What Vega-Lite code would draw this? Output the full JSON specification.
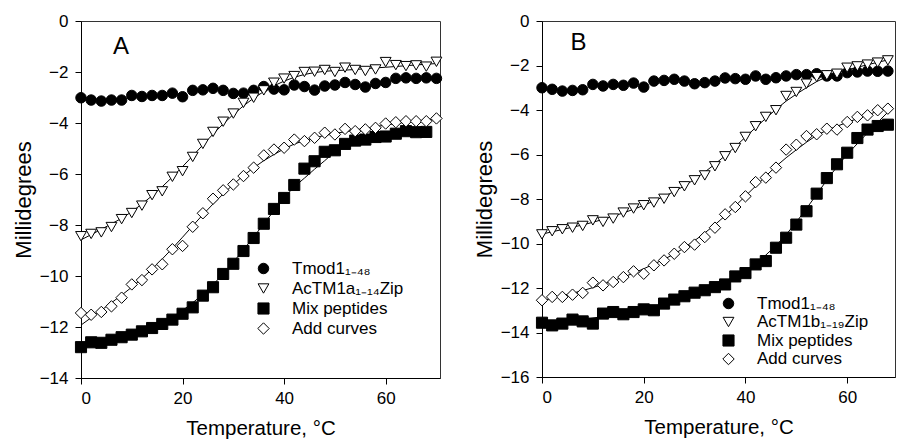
{
"$schema": "https://vega.github.io/schema/vega-lite/v6.json",
"autosize": {"type": "pad"},
"padding": {"left": 11, "top": 11, "right": 0, "bottom": 0},
"background": "white",
"config": {
  "font": "Liberation Sans",
  "view": {"stroke": "#333333", "strokeWidth": 1},
  "axis": {"grid": false, "domainColor": "black", "tickColor": "black", "labelColor": "black", "titleColor": "black", "labelFont": "Liberation Sans", "titleFont": "Liberation Sans", "labelFontSize": 17, "titleFontSize": 20, "titleFontWeight": "normal", "tickSize": 6},
  "axisY": {"labelPadding": 7, "titlePadding": 4, "titleFontSize": 22},
  "axisX": {"labelPadding": 6, "titlePadding": 12, "titleFontSize": 20.5},
  "legend": {"labelFont": "Liberation Sans", "labelFontSize": 17, "labelColor": "black", "symbolStrokeColor": "black", "symbolStrokeWidth": 1, "padding": 0}
},
"datasets": {"d": [
{"p":"A","s":"Tmod1₁₋₄₈","t":0,"v":-3.01},{"p":"A","s":"Tmod1₁₋₄₈","t":2,"v":-3.10},{"p":"A","s":"Tmod1₁₋₄₈","t":4,"v":-3.14},{"p":"A","s":"Tmod1₁₋₄₈","t":6,"v":-3.10},{"p":"A","s":"Tmod1₁₋₄₈","t":8,"v":-3.10},{"p":"A","s":"Tmod1₁₋₄₈","t":10,"v":-2.92},{"p":"A","s":"Tmod1₁₋₄₈","t":12,"v":-2.96},{"p":"A","s":"Tmod1₁₋₄₈","t":14,"v":-2.92},{"p":"A","s":"Tmod1₁₋₄₈","t":16,"v":-2.92},{"p":"A","s":"Tmod1₁₋₄₈","t":18,"v":-2.83},{"p":"A","s":"Tmod1₁₋₄₈","t":20,"v":-2.97},{"p":"A","s":"Tmod1₁₋₄₈","t":22,"v":-2.72},{"p":"A","s":"Tmod1₁₋₄₈","t":24,"v":-2.70},{"p":"A","s":"Tmod1₁₋₄₈","t":26,"v":-2.64},{"p":"A","s":"Tmod1₁₋₄₈","t":28,"v":-2.72},{"p":"A","s":"Tmod1₁₋₄₈","t":30,"v":-2.84},{"p":"A","s":"Tmod1₁₋₄₈","t":32,"v":-2.83},{"p":"A","s":"Tmod1₁₋₄₈","t":34,"v":-2.72},{"p":"A","s":"Tmod1₁₋₄₈","t":36,"v":-2.57},{"p":"A","s":"Tmod1₁₋₄₈","t":38,"v":-2.67},{"p":"A","s":"Tmod1₁₋₄₈","t":40,"v":-2.70},{"p":"A","s":"Tmod1₁₋₄₈","t":42,"v":-2.51},{"p":"A","s":"Tmod1₁₋₄₈","t":44,"v":-2.57},{"p":"A","s":"Tmod1₁₋₄₈","t":46,"v":-2.71},{"p":"A","s":"Tmod1₁₋₄₈","t":48,"v":-2.55},{"p":"A","s":"Tmod1₁₋₄₈","t":50,"v":-2.51},{"p":"A","s":"Tmod1₁₋₄₈","t":52,"v":-2.41},{"p":"A","s":"Tmod1₁₋₄₈","t":54,"v":-2.49},{"p":"A","s":"Tmod1₁₋₄₈","t":56,"v":-2.59},{"p":"A","s":"Tmod1₁₋₄₈","t":58,"v":-2.45},{"p":"A","s":"Tmod1₁₋₄₈","t":60,"v":-2.41},{"p":"A","s":"Tmod1₁₋₄₈","t":62,"v":-2.25},{"p":"A","s":"Tmod1₁₋₄₈","t":64,"v":-2.23},{"p":"A","s":"Tmod1₁₋₄₈","t":66,"v":-2.25},{"p":"A","s":"Tmod1₁₋₄₈","t":68,"v":-2.23},{"p":"A","s":"Tmod1₁₋₄₈","t":70,"v":-2.25},
{"p":"A","s":"AcTM1a₁₋₁₄Zip","t":0,"v":-8.44},{"p":"A","s":"AcTM1a₁₋₁₄Zip","t":2,"v":-8.35},{"p":"A","s":"AcTM1a₁₋₁₄Zip","t":4,"v":-8.29},{"p":"A","s":"AcTM1a₁₋₁₄Zip","t":6,"v":-8.08},{"p":"A","s":"AcTM1a₁₋₁₄Zip","t":8,"v":-7.77},{"p":"A","s":"AcTM1a₁₋₁₄Zip","t":10,"v":-7.53},{"p":"A","s":"AcTM1a₁₋₁₄Zip","t":12,"v":-7.24},{"p":"A","s":"AcTM1a₁₋₁₄Zip","t":14,"v":-6.83},{"p":"A","s":"AcTM1a₁₋₁₄Zip","t":16,"v":-6.68},{"p":"A","s":"AcTM1a₁₋₁₄Zip","t":18,"v":-6.11},{"p":"A","s":"AcTM1a₁₋₁₄Zip","t":20,"v":-5.89},{"p":"A","s":"AcTM1a₁₋₁₄Zip","t":22,"v":-5.33},{"p":"A","s":"AcTM1a₁₋₁₄Zip","t":24,"v":-4.82},{"p":"A","s":"AcTM1a₁₋₁₄Zip","t":26,"v":-4.35},{"p":"A","s":"AcTM1a₁₋₁₄Zip","t":28,"v":-3.95},{"p":"A","s":"AcTM1a₁₋₁₄Zip","t":30,"v":-3.63},{"p":"A","s":"AcTM1a₁₋₁₄Zip","t":32,"v":-3.21},{"p":"A","s":"AcTM1a₁₋₁₄Zip","t":34,"v":-3.01},{"p":"A","s":"AcTM1a₁₋₁₄Zip","t":36,"v":-2.72},{"p":"A","s":"AcTM1a₁₋₁₄Zip","t":38,"v":-2.42},{"p":"A","s":"AcTM1a₁₋₁₄Zip","t":40,"v":-2.26},{"p":"A","s":"AcTM1a₁₋₁₄Zip","t":42,"v":-2.16},{"p":"A","s":"AcTM1a₁₋₁₄Zip","t":44,"v":-2.00},{"p":"A","s":"AcTM1a₁₋₁₄Zip","t":46,"v":-1.99},{"p":"A","s":"AcTM1a₁₋₁₄Zip","t":48,"v":-1.92},{"p":"A","s":"AcTM1a₁₋₁₄Zip","t":50,"v":-2.00},{"p":"A","s":"AcTM1a₁₋₁₄Zip","t":52,"v":-1.83},{"p":"A","s":"AcTM1a₁₋₁₄Zip","t":54,"v":-1.92},{"p":"A","s":"AcTM1a₁₋₁₄Zip","t":56,"v":-1.96},{"p":"A","s":"AcTM1a₁₋₁₄Zip","t":58,"v":-1.90},{"p":"A","s":"AcTM1a₁₋₁₄Zip","t":60,"v":-1.61},{"p":"A","s":"AcTM1a₁₋₁₄Zip","t":62,"v":-1.73},{"p":"A","s":"AcTM1a₁₋₁₄Zip","t":64,"v":-1.77},{"p":"A","s":"AcTM1a₁₋₁₄Zip","t":66,"v":-1.74},{"p":"A","s":"AcTM1a₁₋₁₄Zip","t":68,"v":-1.79},{"p":"A","s":"AcTM1a₁₋₁₄Zip","t":70,"v":-1.60},
{"p":"A","s":"Mix peptides","t":0,"v":-12.79},{"p":"A","s":"Mix peptides","t":2,"v":-12.60},{"p":"A","s":"Mix peptides","t":4,"v":-12.62},{"p":"A","s":"Mix peptides","t":6,"v":-12.50},{"p":"A","s":"Mix peptides","t":8,"v":-12.40},{"p":"A","s":"Mix peptides","t":10,"v":-12.30},{"p":"A","s":"Mix peptides","t":12,"v":-12.17},{"p":"A","s":"Mix peptides","t":14,"v":-12.04},{"p":"A","s":"Mix peptides","t":16,"v":-11.88},{"p":"A","s":"Mix peptides","t":18,"v":-11.71},{"p":"A","s":"Mix peptides","t":20,"v":-11.48},{"p":"A","s":"Mix peptides","t":22,"v":-11.23},{"p":"A","s":"Mix peptides","t":24,"v":-10.77},{"p":"A","s":"Mix peptides","t":26,"v":-10.44},{"p":"A","s":"Mix peptides","t":28,"v":-9.92},{"p":"A","s":"Mix peptides","t":30,"v":-9.52},{"p":"A","s":"Mix peptides","t":32,"v":-9.02},{"p":"A","s":"Mix peptides","t":34,"v":-8.51},{"p":"A","s":"Mix peptides","t":36,"v":-7.95},{"p":"A","s":"Mix peptides","t":38,"v":-7.37},{"p":"A","s":"Mix peptides","t":40,"v":-6.94},{"p":"A","s":"Mix peptides","t":42,"v":-6.43},{"p":"A","s":"Mix peptides","t":44,"v":-5.79},{"p":"A","s":"Mix peptides","t":46,"v":-5.50},{"p":"A","s":"Mix peptides","t":48,"v":-5.13},{"p":"A","s":"Mix peptides","t":50,"v":-5.07},{"p":"A","s":"Mix peptides","t":52,"v":-4.82},{"p":"A","s":"Mix peptides","t":54,"v":-4.69},{"p":"A","s":"Mix peptides","t":56,"v":-4.65},{"p":"A","s":"Mix peptides","t":58,"v":-4.55},{"p":"A","s":"Mix peptides","t":60,"v":-4.53},{"p":"A","s":"Mix peptides","t":62,"v":-4.42},{"p":"A","s":"Mix peptides","t":64,"v":-4.32},{"p":"A","s":"Mix peptides","t":66,"v":-4.36},{"p":"A","s":"Mix peptides","t":68,"v":-4.35},
{"p":"A","s":"Add curves","t":0,"v":-11.45},{"p":"A","s":"Add curves","t":2,"v":-11.52},{"p":"A","s":"Add curves","t":4,"v":-11.41},{"p":"A","s":"Add curves","t":6,"v":-11.19},{"p":"A","s":"Add curves","t":8,"v":-10.85},{"p":"A","s":"Add curves","t":10,"v":-10.33},{"p":"A","s":"Add curves","t":12,"v":-10.16},{"p":"A","s":"Add curves","t":14,"v":-9.74},{"p":"A","s":"Add curves","t":16,"v":-9.54},{"p":"A","s":"Add curves","t":18,"v":-8.95},{"p":"A","s":"Add curves","t":20,"v":-8.82},{"p":"A","s":"Add curves","t":22,"v":-8.07},{"p":"A","s":"Add curves","t":24,"v":-7.54},{"p":"A","s":"Add curves","t":26,"v":-6.97},{"p":"A","s":"Add curves","t":28,"v":-6.64},{"p":"A","s":"Add curves","t":30,"v":-6.41},{"p":"A","s":"Add curves","t":32,"v":-6.08},{"p":"A","s":"Add curves","t":34,"v":-5.75},{"p":"A","s":"Add curves","t":36,"v":-5.27},{"p":"A","s":"Add curves","t":38,"v":-5.04},{"p":"A","s":"Add curves","t":40,"v":-4.97},{"p":"A","s":"Add curves","t":42,"v":-4.65},{"p":"A","s":"Add curves","t":44,"v":-4.71},{"p":"A","s":"Add curves","t":46,"v":-4.58},{"p":"A","s":"Add curves","t":48,"v":-4.38},{"p":"A","s":"Add curves","t":50,"v":-4.45},{"p":"A","s":"Add curves","t":52,"v":-4.23},{"p":"A","s":"Add curves","t":54,"v":-4.32},{"p":"A","s":"Add curves","t":56,"v":-4.25},{"p":"A","s":"Add curves","t":58,"v":-4.19},{"p":"A","s":"Add curves","t":60,"v":-4.02},{"p":"A","s":"Add curves","t":62,"v":-3.97},{"p":"A","s":"Add curves","t":64,"v":-3.93},{"p":"A","s":"Add curves","t":66,"v":-3.93},{"p":"A","s":"Add curves","t":68,"v":-3.93},{"p":"A","s":"Add curves","t":70,"v":-3.82},
{"p":"B","s":"Tmod1₁₋₄₈","t":0,"v":-3.00},{"p":"B","s":"Tmod1₁₋₄₈","t":2,"v":-3.07},{"p":"B","s":"Tmod1₁₋₄₈","t":4,"v":-3.15},{"p":"B","s":"Tmod1₁₋₄₈","t":6,"v":-3.12},{"p":"B","s":"Tmod1₁₋₄₈","t":8,"v":-3.09},{"p":"B","s":"Tmod1₁₋₄₈","t":10,"v":-2.85},{"p":"B","s":"Tmod1₁₋₄₈","t":12,"v":-2.92},{"p":"B","s":"Tmod1₁₋₄₈","t":14,"v":-2.85},{"p":"B","s":"Tmod1₁₋₄₈","t":16,"v":-2.89},{"p":"B","s":"Tmod1₁₋₄₈","t":18,"v":-2.79},{"p":"B","s":"Tmod1₁₋₄₈","t":20,"v":-2.97},{"p":"B","s":"Tmod1₁₋₄₈","t":22,"v":-2.70},{"p":"B","s":"Tmod1₁₋₄₈","t":24,"v":-2.67},{"p":"B","s":"Tmod1₁₋₄₈","t":26,"v":-2.62},{"p":"B","s":"Tmod1₁₋₄₈","t":28,"v":-2.70},{"p":"B","s":"Tmod1₁₋₄₈","t":30,"v":-2.82},{"p":"B","s":"Tmod1₁₋₄₈","t":32,"v":-2.77},{"p":"B","s":"Tmod1₁₋₄₈","t":34,"v":-2.70},{"p":"B","s":"Tmod1₁₋₄₈","t":36,"v":-2.56},{"p":"B","s":"Tmod1₁₋₄₈","t":38,"v":-2.59},{"p":"B","s":"Tmod1₁₋₄₈","t":40,"v":-2.62},{"p":"B","s":"Tmod1₁₋₄₈","t":42,"v":-2.47},{"p":"B","s":"Tmod1₁₋₄₈","t":44,"v":-2.62},{"p":"B","s":"Tmod1₁₋₄₈","t":46,"v":-2.55},{"p":"B","s":"Tmod1₁₋₄₈","t":48,"v":-2.47},{"p":"B","s":"Tmod1₁₋₄₈","t":50,"v":-2.41},{"p":"B","s":"Tmod1₁₋₄₈","t":52,"v":-2.41},{"p":"B","s":"Tmod1₁₋₄₈","t":54,"v":-2.37},{"p":"B","s":"Tmod1₁₋₄₈","t":56,"v":-2.47},{"p":"B","s":"Tmod1₁₋₄₈","t":58,"v":-2.47},{"p":"B","s":"Tmod1₁₋₄₈","t":60,"v":-2.32},{"p":"B","s":"Tmod1₁₋₄₈","t":62,"v":-2.29},{"p":"B","s":"Tmod1₁₋₄₈","t":64,"v":-2.25},{"p":"B","s":"Tmod1₁₋₄₈","t":66,"v":-2.26},{"p":"B","s":"Tmod1₁₋₄₈","t":68,"v":-2.25},
{"p":"B","s":"AcTM1b₁₋₁₉Zip","t":0,"v":-9.59},{"p":"B","s":"AcTM1b₁₋₁₉Zip","t":2,"v":-9.45},{"p":"B","s":"AcTM1b₁₋₁₉Zip","t":4,"v":-9.36},{"p":"B","s":"AcTM1b₁₋₁₉Zip","t":6,"v":-9.29},{"p":"B","s":"AcTM1b₁₋₁₉Zip","t":8,"v":-9.21},{"p":"B","s":"AcTM1b₁₋₁₉Zip","t":10,"v":-8.96},{"p":"B","s":"AcTM1b₁₋₁₉Zip","t":12,"v":-9.03},{"p":"B","s":"AcTM1b₁₋₁₉Zip","t":14,"v":-8.88},{"p":"B","s":"AcTM1b₁₋₁₉Zip","t":16,"v":-8.61},{"p":"B","s":"AcTM1b₁₋₁₉Zip","t":18,"v":-8.43},{"p":"B","s":"AcTM1b₁₋₁₉Zip","t":20,"v":-8.28},{"p":"B","s":"AcTM1b₁₋₁₉Zip","t":22,"v":-8.16},{"p":"B","s":"AcTM1b₁₋₁₉Zip","t":24,"v":-7.99},{"p":"B","s":"AcTM1b₁₋₁₉Zip","t":26,"v":-7.69},{"p":"B","s":"AcTM1b₁₋₁₉Zip","t":28,"v":-7.43},{"p":"B","s":"AcTM1b₁₋₁₉Zip","t":30,"v":-7.16},{"p":"B","s":"AcTM1b₁₋₁₉Zip","t":32,"v":-6.94},{"p":"B","s":"AcTM1b₁₋₁₉Zip","t":34,"v":-6.53},{"p":"B","s":"AcTM1b₁₋₁₉Zip","t":36,"v":-6.08},{"p":"B","s":"AcTM1b₁₋₁₉Zip","t":38,"v":-5.71},{"p":"B","s":"AcTM1b₁₋₁₉Zip","t":40,"v":-5.21},{"p":"B","s":"AcTM1b₁₋₁₉Zip","t":42,"v":-4.73},{"p":"B","s":"AcTM1b₁₋₁₉Zip","t":44,"v":-4.31},{"p":"B","s":"AcTM1b₁₋₁₉Zip","t":46,"v":-4.01},{"p":"B","s":"AcTM1b₁₋₁₉Zip","t":48,"v":-3.37},{"p":"B","s":"AcTM1b₁₋₁₉Zip","t":50,"v":-3.19},{"p":"B","s":"AcTM1b₁₋₁₉Zip","t":52,"v":-2.82},{"p":"B","s":"AcTM1b₁₋₁₉Zip","t":54,"v":-2.52},{"p":"B","s":"AcTM1b₁₋₁₉Zip","t":56,"v":-2.44},{"p":"B","s":"AcTM1b₁₋₁₉Zip","t":58,"v":-2.37},{"p":"B","s":"AcTM1b₁₋₁₉Zip","t":60,"v":-2.10},{"p":"B","s":"AcTM1b₁₋₁₉Zip","t":62,"v":-2.04},{"p":"B","s":"AcTM1b₁₋₁₉Zip","t":64,"v":-1.96},{"p":"B","s":"AcTM1b₁₋₁₉Zip","t":66,"v":-1.87},{"p":"B","s":"AcTM1b₁₋₁₉Zip","t":68,"v":-1.77},
{"p":"B","s":"Mix peptides","t":0,"v":-13.56},{"p":"B","s":"Mix peptides","t":2,"v":-13.68},{"p":"B","s":"Mix peptides","t":4,"v":-13.60},{"p":"B","s":"Mix peptides","t":6,"v":-13.42},{"p":"B","s":"Mix peptides","t":8,"v":-13.50},{"p":"B","s":"Mix peptides","t":10,"v":-13.60},{"p":"B","s":"Mix peptides","t":12,"v":-13.15},{"p":"B","s":"Mix peptides","t":14,"v":-13.08},{"p":"B","s":"Mix peptides","t":16,"v":-13.18},{"p":"B","s":"Mix peptides","t":18,"v":-13.08},{"p":"B","s":"Mix peptides","t":20,"v":-12.96},{"p":"B","s":"Mix peptides","t":22,"v":-13.00},{"p":"B","s":"Mix peptides","t":24,"v":-12.70},{"p":"B","s":"Mix peptides","t":26,"v":-12.52},{"p":"B","s":"Mix peptides","t":28,"v":-12.37},{"p":"B","s":"Mix peptides","t":30,"v":-12.21},{"p":"B","s":"Mix peptides","t":32,"v":-12.10},{"p":"B","s":"Mix peptides","t":34,"v":-11.96},{"p":"B","s":"Mix peptides","t":36,"v":-11.84},{"p":"B","s":"Mix peptides","t":38,"v":-11.48},{"p":"B","s":"Mix peptides","t":40,"v":-11.33},{"p":"B","s":"Mix peptides","t":42,"v":-10.94},{"p":"B","s":"Mix peptides","t":44,"v":-10.79},{"p":"B","s":"Mix peptides","t":46,"v":-10.19},{"p":"B","s":"Mix peptides","t":48,"v":-9.74},{"p":"B","s":"Mix peptides","t":50,"v":-9.15},{"p":"B","s":"Mix peptides","t":52,"v":-8.55},{"p":"B","s":"Mix peptides","t":54,"v":-7.76},{"p":"B","s":"Mix peptides","t":56,"v":-7.06},{"p":"B","s":"Mix peptides","t":58,"v":-6.44},{"p":"B","s":"Mix peptides","t":60,"v":-5.92},{"p":"B","s":"Mix peptides","t":62,"v":-5.26},{"p":"B","s":"Mix peptides","t":64,"v":-4.88},{"p":"B","s":"Mix peptides","t":66,"v":-4.72},{"p":"B","s":"Mix peptides","t":68,"v":-4.66},
{"p":"B","s":"Add curves","t":0,"v":-12.55},{"p":"B","s":"Add curves","t":2,"v":-12.40},{"p":"B","s":"Add curves","t":4,"v":-12.40},{"p":"B","s":"Add curves","t":6,"v":-12.30},{"p":"B","s":"Add curves","t":8,"v":-12.22},{"p":"B","s":"Add curves","t":10,"v":-11.76},{"p":"B","s":"Add curves","t":12,"v":-11.88},{"p":"B","s":"Add curves","t":14,"v":-11.73},{"p":"B","s":"Add curves","t":16,"v":-11.51},{"p":"B","s":"Add curves","t":18,"v":-11.25},{"p":"B","s":"Add curves","t":20,"v":-11.36},{"p":"B","s":"Add curves","t":22,"v":-10.98},{"p":"B","s":"Add curves","t":24,"v":-10.76},{"p":"B","s":"Add curves","t":26,"v":-10.46},{"p":"B","s":"Add curves","t":28,"v":-10.16},{"p":"B","s":"Add curves","t":30,"v":-10.05},{"p":"B","s":"Add curves","t":32,"v":-9.71},{"p":"B","s":"Add curves","t":34,"v":-9.29},{"p":"B","s":"Add curves","t":36,"v":-8.69},{"p":"B","s":"Add curves","t":38,"v":-8.36},{"p":"B","s":"Add curves","t":40,"v":-7.88},{"p":"B","s":"Add curves","t":42,"v":-7.24},{"p":"B","s":"Add curves","t":44,"v":-7.04},{"p":"B","s":"Add curves","t":46,"v":-6.59},{"p":"B","s":"Add curves","t":48,"v":-5.78},{"p":"B","s":"Add curves","t":50,"v":-5.56},{"p":"B","s":"Add curves","t":52,"v":-5.17},{"p":"B","s":"Add curves","t":54,"v":-5.09},{"p":"B","s":"Add curves","t":56,"v":-4.84},{"p":"B","s":"Add curves","t":58,"v":-4.88},{"p":"B","s":"Add curves","t":60,"v":-4.54},{"p":"B","s":"Add curves","t":62,"v":-4.31},{"p":"B","s":"Add curves","t":64,"v":-4.24},{"p":"B","s":"Add curves","t":66,"v":-4.01},{"p":"B","s":"Add curves","t":68,"v":-3.94}
]},
"spacing": 27,
"resolve": {"scale": {"shape": "independent", "fill": "independent", "size": "independent", "stroke": "independent"}, "legend": {"shape": "independent", "fill": "independent", "size": "independent", "stroke": "independent"}},
"hconcat": [
{
  "width": 359, "height": 357,
  "layer": [
    {
      "data": {"name": "d"},
      "transform": [{"filter": "datum.p == 'A' && datum.s != 'Tmod1₁₋₄₈'"}, {"loess": "v", "on": "t", "groupby": ["s"], "bandwidth": 0.3}],
      "mark": {"type": "line", "color": "black", "strokeWidth": 1},
      "encoding": {
        "x": {"field": "t", "type": "quantitative", "scale": {"domain": [0, 70.7], "nice": false}},
        "y": {"field": "v", "type": "quantitative", "scale": {"domain": [-14, 0], "nice": false}},
        "detail": {"field": "s"}
      }
    },
    {
      "data": {"name": "d"},
      "transform": [{"filter": "datum.p == 'A'"}],
      "mark": {"type": "point", "filled": true, "strokeWidth": 1, "opacity": 1},
      "encoding": {
        "x": {"field": "t", "type": "quantitative", "title": "Temperature, °C", "axis": {"values": [0, 20, 40, 60]}},
        "y": {"field": "v", "type": "quantitative", "title": "Millidegrees", "axis": {"values": [0, -2, -4, -6, -8, -10, -12, -14]}},
        "shape": {"field": "s", "type": "nominal", "scale": {"domain": ["Tmod1₁₋₄₈", "AcTM1a₁₋₁₄Zip", "Mix peptides", "Add curves"], "range": ["circle", "triangle-down", "square", "diamond"]},
          "legend": {"orient": "none", "legendX": 174, "legendY": 239, "title": null, "labelOffset": 20, "rowPadding": 2}},
        "fill": {"field": "s", "type": "nominal", "scale": {"domain": ["Tmod1₁₋₄₈", "AcTM1a₁₋₁₄Zip", "Mix peptides", "Add curves"], "range": ["black", "white", "black", "white"]}},
        "stroke": {"field": "s", "type": "nominal", "scale": {"domain": ["Tmod1₁₋₄₈", "AcTM1a₁₋₁₄Zip", "Mix peptides", "Add curves"], "range": ["black", "black", "black", "black"]}},
        "size": {"field": "s", "type": "nominal", "scale": {"domain": ["Tmod1₁₋₄₈", "AcTM1a₁₋₁₄Zip", "Mix peptides", "Add curves"], "range": [110, 130, 90, 150]}}
      }
    },
    {
      "data": {"values": [{"label": "A"}]},
      "mark": {"type": "text", "fontSize": 24, "font": "Liberation Sans", "color": "black", "align": "left", "baseline": "middle"},
      "encoding": {"x": {"datum": 6.3}, "y": {"datum": -1}, "text": {"field": "label"}}
    }
  ]
},
{
  "width": 353, "height": 356,
  "layer": [
    {
      "data": {"name": "d"},
      "transform": [{"filter": "datum.p == 'B' && datum.s != 'Tmod1₁₋₄₈'"}, {"loess": "v", "on": "t", "groupby": ["s"], "bandwidth": 0.3}],
      "mark": {"type": "line", "color": "black", "strokeWidth": 1},
      "encoding": {
        "x": {"field": "t", "type": "quantitative", "scale": {"domain": [0, 69.4], "nice": false}},
        "y": {"field": "v", "type": "quantitative", "scale": {"domain": [-16, 0], "nice": false}},
        "detail": {"field": "s"}
      }
    },
    {
      "data": {"name": "d"},
      "transform": [{"filter": "datum.p == 'B'"}],
      "mark": {"type": "point", "filled": true, "strokeWidth": 1, "opacity": 1},
      "encoding": {
        "x": {"field": "t", "type": "quantitative", "title": "Temperature, °C", "axis": {"values": [0, 20, 40, 60]}},
        "y": {"field": "v", "type": "quantitative", "title": "Millidegrees", "axis": {"values": [0, -2, -4, -6, -8, -10, -12, -14, -16]}},
        "shape": {"field": "s", "type": "nominal", "scale": {"domain": ["Tmod1₁₋₄₈", "AcTM1b₁₋₁₉Zip", "Mix peptides", "Add curves"], "range": ["circle", "triangle-down", "square", "diamond"]},
          "legend": {"orient": "none", "legendX": 178, "legendY": 274, "title": null, "labelOffset": 20, "rowPadding": 0.5}},
        "fill": {"field": "s", "type": "nominal", "scale": {"domain": ["Tmod1₁₋₄₈", "AcTM1b₁₋₁₉Zip", "Mix peptides", "Add curves"], "range": ["black", "white", "black", "white"]}},
        "stroke": {"field": "s", "type": "nominal", "scale": {"domain": ["Tmod1₁₋₄₈", "AcTM1b₁₋₁₉Zip", "Mix peptides", "Add curves"], "range": ["black", "black", "black", "black"]}},
        "size": {"field": "s", "type": "nominal", "scale": {"domain": ["Tmod1₁₋₄₈", "AcTM1b₁₋₁₉Zip", "Mix peptides", "Add curves"], "range": [110, 130, 90, 150]}}
      }
    },
    {
      "data": {"values": [{"label": "B"}]},
      "mark": {"type": "text", "fontSize": 24, "font": "Liberation Sans", "color": "black", "align": "left", "baseline": "middle"},
      "encoding": {"x": {"datum": 5.6}, "y": {"datum": -1}, "text": {"field": "label"}}
    }
  ]
}
]
}
